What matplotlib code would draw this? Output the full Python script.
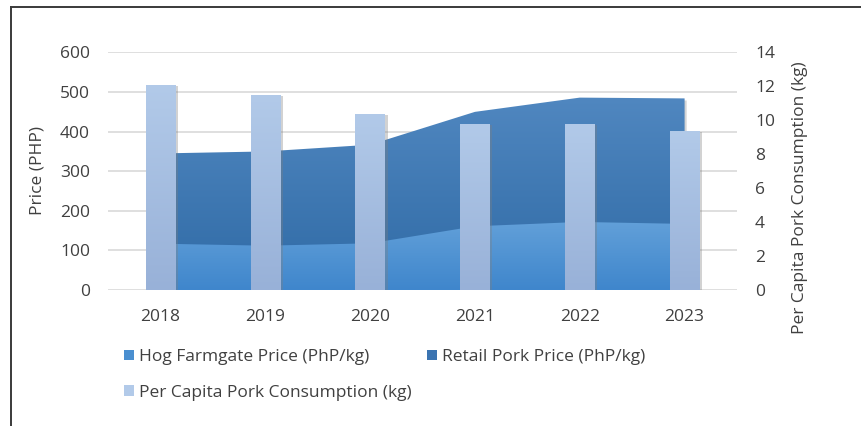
import numpy as np
import matplotlib
matplotlib.use("Agg")
import matplotlib.pyplot as plt
from matplotlib.colors import LinearSegmentedColormap
from matplotlib.patches import Polygon, Patch
from matplotlib.lines import Line2D
import matplotlib.patheffects as pe

plt.rcParams['font.family'] = ['Open Sans', 'DejaVu Sans']

# Pork market data, 2018-2023
years = ['2018', '2019', '2020', '2021', '2022', '2023']
hog_farmgate = [117, 112, 118, 161, 172, 167]        # PhP/kg
retail_pork = [345, 350, 367, 450, 486, 484]         # PhP/kg
per_capita = [12.1, 11.5, 10.4, 9.8, 9.8, 9.4]       # kg

text_color = '#404040'
grid_color = '#d9d9d9'
hog_top, hog_bot = '#62a0d9', '#3f86cc'
ret_top, ret_bot = '#5087c0', '#2f6aa5'
bar_top, bar_bot = '#b2cae9', '#98b1d8'
fs = 12.5


def gradient_patch(ax, patch, c_top, c_bot, z):
    """Fill a patch with a vertical gradient clipped to its outline."""
    ax.add_patch(patch)
    (x0, y0), (x1, y1) = patch.get_path().get_extents().get_points()
    cmap = LinearSegmentedColormap.from_list('g', [c_bot, c_top])
    grad = np.linspace(0, 1, 256).reshape(-1, 1)
    im = ax.imshow(grad, cmap=cmap, extent=[x0, x1, y0, y1], origin='lower',
                   aspect='auto', zorder=z, interpolation='bicubic')
    im.set_clip_path(patch)
    return im


fig = plt.figure(figsize=(8.62, 4.26), dpi=100)
ax = fig.add_axes([0.1253, 0.3192, 0.7297, 0.5576])
ax2 = ax.twinx()

x = np.arange(len(years))

# price areas: retail behind, farmgate in front
ret_poly = Polygon(np.column_stack([np.r_[x, x[::-1]], np.r_[retail_pork, np.zeros(len(x))]]),
                   closed=True, facecolor='none', edgecolor='none', zorder=2,
                   path_effects=[pe.SimplePatchShadow(offset=(1.5, -1.5), shadow_rgbFace='#888888', alpha=0.35)])
gradient_patch(ax, ret_poly, ret_top, ret_bot, 2.1)
hog_poly = Polygon(np.column_stack([np.r_[x, x[::-1]], np.r_[hog_farmgate, np.zeros(len(x))]]),
                   closed=True, facecolor='none', edgecolor='none', zorder=3)
gradient_patch(ax, hog_poly, hog_top, hog_bot, 3.1)

ax.set_xlim(-0.5, len(years) - 0.5)
ax.set_ylim(0, 600)
ax.set_yticks(np.arange(0, 601, 100))
ax.set_xticks(x)
ax.set_xticklabels(years)
ax.yaxis.grid(True, color=grid_color, linewidth=1.2)
ax.set_axisbelow(True)

# per-capita consumption bars on the secondary axis
bars = ax2.bar(x, per_capita, width=0.28, color='none', edgecolor='none')
for b in bars:
    b.set_path_effects([pe.SimplePatchShadow(offset=(2, -1), shadow_rgbFace='#7f7f7f', alpha=0.35)])
    b.set_zorder(2)
    cmap = LinearSegmentedColormap.from_list('g', [bar_bot, bar_top])
    grad = np.linspace(0, 1, 256).reshape(-1, 1)
    im = ax2.imshow(grad, cmap=cmap, extent=[b.get_x(), b.get_x() + b.get_width(), 0, b.get_height()],
                    origin='lower', aspect='auto', zorder=3)
    im.set_clip_path(b)

ax2.set_xlim(-0.5, len(years) - 0.5)
ax2.set_ylim(0, 14)
ax2.set_yticks(np.arange(0, 15, 2))

for a in (ax, ax2):
    for s in a.spines.values():
        s.set_visible(False)
    a.tick_params(length=0, colors=text_color, labelsize=fs)
ax.tick_params(axis='x', pad=14)
ax.tick_params(axis='y', pad=13)
ax2.tick_params(axis='y', pad=13)

fig.text(0.044, 0.60, 'Price (PHP)', rotation=90, ha='center', va='center',
         color=text_color, fontsize=fs)
fig.text(0.928, 0.535, 'Per Capita Pork Consumption (kg)', rotation=90, ha='center', va='center',
         color=text_color, fontsize=fs)

handles = [Patch(facecolor='#4a8fd0', edgecolor='none'),
           Patch(facecolor=bar_top, edgecolor='none'),
           Patch(facecolor='#3b74b1', edgecolor='none')]
labels = ['Hog Farmgate Price (PhP/kg)', 'Per Capita Pork Consumption (kg)', 'Retail Pork Price (PhP/kg)']
fig.legend(handles, labels, ncol=2, loc='upper left', bbox_to_anchor=(0.144, 0.181),
           frameon=False, fontsize=fs, labelcolor=text_color, handlelength=0.55,
           handleheight=0.55, handletextpad=0.3, columnspacing=0.9, labelspacing=1.15,
           borderaxespad=0, borderpad=0)

# outer frame edges
fig.add_artist(Line2D([0.0122, 0.0122], [0, 0.984], transform=fig.transFigure, color='#3a3a3a', linewidth=1.4))
fig.add_artist(Line2D([0.0122, 1.0], [0.984, 0.984], transform=fig.transFigure, color='#3a3a3a', linewidth=1.4))

fig.savefig('out.png', dpi=100)
